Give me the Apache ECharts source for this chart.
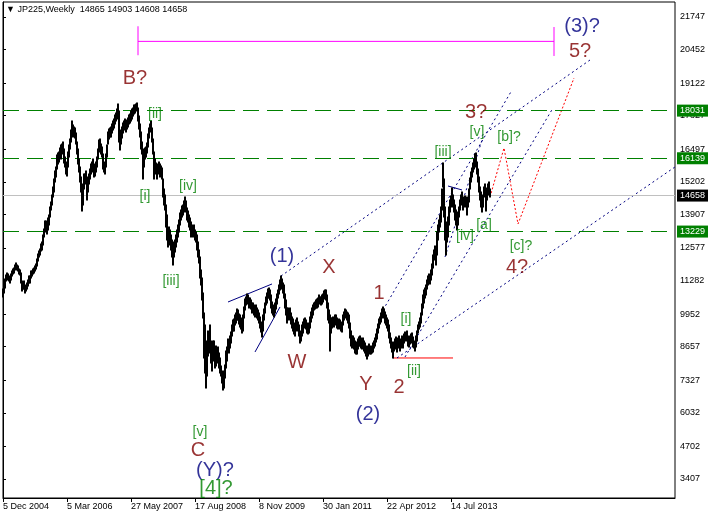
<!DOCTYPE html>
<html><head><meta charset="utf-8">
<script src="https://cdn.jsdelivr.net/npm/echarts@6/dist/echarts.min.js"></script>
<style>html,body{margin:0;padding:0;background:#fff}#c{width:715px;height:517px}</style>
</head><body><div id="c"></div>
<script>
// ---- weekly [low, high] ranges, one bar per week from 5 Dec 2004 ----
const y2004 = [[10650,10950],[10800,11100],[11000,11350],[11250,11500]];
const y2005 = [
[11350,11600],[11300,11550],[11250,11450],[11200,11400],
[11300,11550],[11450,11650],[11550,11750],[11600,11800],
[11700,11900],[11800,12000],[11700,11900],[11650,11850],
[11550,11750],[11500,11700],[11200,11600],[10850,11250],
[10950,11150],[10950,11250],[10770,11050],[10850,11100],
[10950,11200],[11050,11300],[11200,11450],[11200,11450],
[11400,11650],[11450,11650],[11550,11750],[11600,11800],
[11650,11850],[11750,11950],[11850,12150],[12050,12350],
[12200,12450],[12300,12550],[12450,12750],[12500,12800],
[12700,13100],[13000,13350],[13200,13650],[13300,13650],
[13150,13550],[13300,13750],[13500,13900],[13800,14200],
[14100,14400],[14300,14700],[14600,15000],[14800,15300],
[15200,15650],[15400,15800],[15700,16250],[15900,16350]];
const y2006 = [
[16000,16400],[16200,16550],[16100,16650],[16300,16700],
[16450,16800],[15950,16500],[15800,16200],[15500,16000],
[15450,15850],[15800,16400],[16200,16650],[16500,16900],
[16800,17250],[17150,17600],[17000,17450],[17100,17400],
[16950,17350],[16700,17150],[16300,16800],[15900,16500],
[15600,16100],[15200,15800],[14800,15400],[14050,15100],
[14300,14900],[14900,15500],[15100,15500],[15200,15650],
[14500,15300],[14800,15400],[15100,15500],[15300,15700],
[15500,15900],[15600,16000],[15700,16100],[15400,15900],
[15450,15800],[15600,16000],[15800,16200],[16100,16500],
[16400,16850],[16500,16900],[16300,16700],[16200,16600],
[15700,16300],[15600,16000],[15500,15900],[15800,16300],
[16200,16650],[16700,17200],[16900,17300],[17000,17350]];
const y2007 = [
[17000,17400],[17150,17500],[17250,17600],[17350,17700],
[17500,17850],[17600,17950],[17700,18100],[17900,18300],
[16800,18000],[16450,17100],[16700,17250],[16950,17400],
[17150,17550],[17250,17600],[17300,17700],[17200,17600],
[17300,17650],[17400,17750],[17500,17850],[17550,17900],
[17600,18000],[17700,18100],[17800,18150],[17900,18250],
[17950,18250],[18000,18300],[18050,18350],[17600,18150],
[17300,17800],[17000,17500],[16500,17200],[16300,16800],
[15300,16500],[15800,16400],[16100,16550],[16200,16600],
[16350,16750],[16600,17100],[16950,17350],[17200,17500],
[17250,17600],[16800,17350],[16300,16900],[15300,16400],
[15600,16100],[15500,15950],[15300,15800],[15500,15900],
[15600,16000],[15400,15900],[15500,15850],[15300,15750]];
const y2008 = [
[14600,15300],[14300,14900],[14100,14700],[13400,14300],
[12900,13900],[12600,13300],[12800,13400],[12700,13300],
[12500,13100],[12200,12900],[11900,12600],[12200,12800],
[12400,12900],[12600,13100],[12800,13300],[13000,13500],
[13200,13700],[13500,13950],[13700,14100],[13800,14250],
[13900,14300],[14000,14450],[14200,14600],[14000,14450],
[13700,14150],[13600,14050],[13400,13900],[13300,13750],
[13000,13600],[13100,13500],[13000,13400],[13100,13500],
[12900,13300],[12800,13200],[12500,13100],[12200,12800],
[12000,12500],[11400,12200],[11100,11700],[10500,11400],
[9800,10800],[8200,10000],[7600,9500],[7000,8700],
[7500,8900],[8300,9300],[8400,9200],[8500,9500],
[8000,8900],[7700,8500],[8100,8900],[8300,8900]];
const y2009 = [
[7800,8600],[7900,8700],[8000,8600],[8100,8650],
[7800,8400],[7600,8200],[7500,7900],[7200,7700],
[6950,7500],[7000,7700],[7400,7950],[7800,8500],
[8100,8650],[8500,8950],[8400,8900],[8600,9100],
[8800,9250],[9100,9500],[9300,9700],[9300,9750],
[9500,9900],[9600,10000],[9700,10150],[9700,10100],
[9550,9950],[9450,9900],[9350,9800],[9200,9700],
[9300,9900],[9800,10250],[10100,10550],[10300,10650],
[10400,10760],[10350,10700],[10200,10600],[10250,10600],
[10150,10500],[10000,10400],[10050,10400],[9900,10300],
[9850,10250],[9900,10300],[9800,10200],[9700,10100],
[9600,10000],[9400,9850],[9250,9650],[9050,9500],
[9300,9900],[9700,10150],[10000,10400],[10300,10650]];
const y2010 = [
[10400,10800],[10600,10950],[10600,10980],[10500,10900],
[10200,10700],[10000,10450],[9900,10300],[9850,10250],
[10000,10400],[10150,10550],[10350,10750],[10600,10900],
[10750,11100],[10900,11300],[11100,11450],[10950,11350],
[10800,11200],[10600,11100],[10200,10750],[9900,10500],
[9600,10200],[9800,10200],[9700,10100],[9800,10200],
[9550,10000],[9400,9850],[9300,9750],[9150,9600],
[9100,9500],[9300,9700],[9400,9800],[9300,9650],
[9100,9500],[8800,9250],[8900,9300],[9100,9500],
[9200,9650],[9400,9750],[9450,9800],[9350,9700],
[9200,9600],[9150,9500],[9200,9600],[9400,9850],
[9650,10050],[9800,10200],[9900,10300],[10100,10400],
[10150,10450],[10200,10500],[10200,10550],[10250,10600]];
const y2011 = [
[10350,10700],[10400,10650],[10300,10650],[10350,10700],
[10450,10750],[10550,10850],[10600,10900],[10500,10900],
[10200,10700],[9700,10400],[9600,10100],[8500,9900],
[9200,9800],[9400,9800],[9500,9850],[9450,9800],
[9500,9900],[9550,9900],[9400,9800],[9350,9700],
[9400,9750],[9350,9700],[9300,9650],[9250,9600],
[9500,9900],[9700,10050],[9850,10150],[9800,10100],
[9700,10050],[9600,10000],[9400,9900],[9000,9600],
[8700,9300],[8600,9100],[8700,9100],[8550,9000],
[8400,8900],[8350,8850],[8350,8800],[8550,8950],
[8700,9050],[8700,9100],[8600,9000],[8550,8950],
[8600,9000],[8500,8900],[8400,8800],[8300,8700],
[8150,8550],[8300,8700],[8400,8750],[8350,8700]];
const y2012 = [
[8350,8650],[8400,8700],[8450,8800],[8600,8900],
[8700,9000],[8850,9150],[8950,9350],[9200,9550],
[9400,9750],[9550,9850],[9650,10000],[9800,10150],
[9900,10250],[9800,10150],[9600,10050],[9500,9900],
[9400,9800],[9300,9700],[9000,9500],[8800,9200],
[8600,9000],[8450,8850],[8220,8700],[8500,8850],
[8550,8950],[8650,9050],[8450,8900],[8600,9000],
[8700,9100],[8500,8900],[8600,8950],[8750,9100],
[8600,8950],[8800,9150],[8950,9250],[8900,9200],
[8950,9300],[8700,9100],[8650,9000],[8750,9100],
[8800,9150],[8850,9200],[8650,9050],[8600,8900],
[8500,8850],[8650,9100],[8900,9300],[9200,9500],
[9350,9650],[9450,9800],[9600,10000],[9900,10350]];
const y2013 = [
[10200,10700],[10400,10900],[10600,11000],[10700,11100],
[10950,11300],[11100,11450],[11250,11550],[11150,11500],
[11300,11700],[11500,11950],[11800,12300],[12100,12500],
[12200,12650],[11900,12500],[12300,13200],[12900,13500],
[13200,13700],[13400,13900],[13600,14200],[14100,14900],
[15000,15950],[13800,15300],[12900,14200],[12300,13500],
[12800,13600],[13000,13800],[13500,14200],[14000,14500],
[14200,14650],[14500,14960],[14200,14700],[14000,14500],
[13700,14300],[13500,14100],[13300,13800],[13500,14000],
[13800,14200],[14100,14500],[14300,14700],[14400,14800],
[14100,14600],[14200,14550],[14300,14650],[14200,14600],
[13900,14400],[14200,14600],[14400,14900],[14900,15350],
[15200,15600],[15400,15750],[15600,15950],[15700,16100]];
const y2014 = [
[15900,16300],[15800,16350],[15500,16000],[15200,15700],
[14800,15400],[14500,15000],[14200,14800],[14000,14500],
[14200,14700],[14600,15000],[14700,15100],[14050,14700],
[14500,14950],[14700,15100],[14800,15200],[14608,14903]];

// ---- axes ----
const dateTicks = [0, 64, 128, 192, 256, 320, 384, 448];
const dateLabels = ['5 Dec 2004','5 Mar 2006','27 May 2007','17 Aug 2008','8 Nov 2009','30 Jan 2011','22 Apr 2012','14 Jul 2013'];
const priceTicks = [21747,20452,19122,17827,16497,15202,13907,12577,11282,9952,8657,7327,6032,4702,3407];
const levelLines = [18031, 16139, 13229];
const lastPrice = 14658;
const header = '\u25BC JP225,Weekly  14865 14903 14608 14658';

// ---- drawn objects (bar index, price) ----
const magentaSpan = [[135, 20780], [551, 20780]];
const magentaLeft = [[135, 21380], [135, 20230]];
const magentaRight = [[551, 21350], [551, 20200]];
const redSupport = [[390, 8210], [450, 8210]];
const redPath = [[487, 14600], [501, 16547], [515, 13530], [571, 19326]];
const dotLines = [
  [[278, 11465], [587, 20040]],
  [[380, 10115], [509, 18849]],
  [[394, 8210], [672, 15793]],
  [[442, 12220], [480, 16983]],
  [[402, 8250], [550, 18135]]
];
const solidLines = [
  [[225, 10433], [269, 11148]],
  [[252, 8448], [277, 10235]],
  [[445, 15038], [459, 14880]]
];

// ---- wave labels ----
const labelText  = ['B?','[ii]','[i]','[iv]','[iii]','[v]','C','(Y)?','[4]?','(1)','X','W','Y','(2)','1','[i]','2','[ii]','[iii]','3?','[v]','[b]?','[iv]','[a]','[c]?','4?','(3)?','5?'];
const labelBar   = [132,152,142,185,168,197,195,212,213,279,326,294,363,365,376,403,396,411,440,473,474,506,462,481,518,514,579,577];
const labelPrice = [19326,17897,14641,15038,11267,5272,4557,3725,3010,12259,11783,8012,7138,5947,10790,9758,7058,7694,16388,17976,17182,16984,13053,13490,12650,11783,21390,20398];
const labelKind  = ['r','g','g','g','g','g','r','b','g4','b','r','r','r','b','r','g','r','g','g','r','g','g','g','g','g','r','b','r'];

const RED = '#800000', NAVY = '#000080', GREEN = '#008000';
const FONT = 'Liberation Sans';

const bars = [].concat(y2004, y2005, y2006, y2007, y2008, y2009, y2010, y2011, y2012, y2013, y2014);
const barData = bars.map((b, i) => [i, b[0], b[1]]);

function lineSeries(data, color, type, width) {
  return { type: 'line', data: data, symbol: 'none', silent: true, animation: false,
    lineStyle: { color: color, width: width || 1, type: type }, z: 4 };
}

const series = [];
series.push({
  type: 'custom', data: barData, encode: { x: 0, y: [1, 2] }, z: 5, animation: false,
  renderItem: function (params, api) {
    const x = api.value(0);
    const a = api.coord([x, api.value(1)]);
    const b = api.coord([x, api.value(2)]);
    const px = Math.round(a[0]);
    return { type: 'line', shape: { x1: px, y1: Math.round(a[1]) + 0.5, x2: px, y2: Math.round(b[1]) - 0.5 },
      style: { stroke: '#000', lineWidth: 2 } };
  },
  markLine: {
    silent: true, symbol: 'none', animation: false,
    label: { show: true, position: 'end', distance: 2, formatter: function (p) { return String(p.value); },
      fontSize: 9, fontFamily: FONT, color: '#fff', padding: [2, 3, 1, 3], lineHeight: 9 },
    data: levelLines.map(function (v) {
      return { yAxis: v, lineStyle: { color: GREEN, type: [16, 8], width: 1 }, label: { backgroundColor: GREEN } };
    }).concat([{ yAxis: lastPrice, lineStyle: { color: '#c0c0c0', type: 'solid', width: 1 }, label: { backgroundColor: '#000' } }])
  }
});
series.push(lineSeries(magentaSpan, '#ff00ff', 'solid', 1));
series.push(lineSeries(magentaLeft, '#ff00ff', 'solid', 1));
series.push(lineSeries(magentaRight, '#ff00ff', 'solid', 1));
series.push(lineSeries(redSupport, '#ff0000', 'solid', 1));
series.push(lineSeries(redPath, '#ff0000', [2, 2], 1));
dotLines.forEach(function (d) { series.push(lineSeries(d, NAVY, [2, 3], 1)); });
solidLines.forEach(function (d) { series.push(lineSeries(d, NAVY, 'solid', 1)); });

series.push({
  type: 'scatter', symbolSize: 1, itemStyle: { color: 'rgba(0,0,0,0)' }, silent: true, animation: false, z: 10,
  data: labelText.map(function (t, i) {
    const k = labelKind[i];
    const color = k === 'r' ? RED : (k === 'b' ? NAVY : GREEN);
    const size = k === 'g' ? 14 : 20;
    return { value: [labelBar[i], labelPrice[i]],
      label: { show: true, position: 'inside', formatter: t, color: color, fontSize: size, fontFamily: FONT } };
  })
});

const chart = echarts.init(document.getElementById('c'), null, { renderer: 'canvas' });
chart.setOption({
  animation: false,
  backgroundColor: '#fff',
  grid: { left: 3, right: 40, top: 2, bottom: 19, show: true, borderColor: '#000', borderWidth: 1, backgroundColor: 'transparent' },
  graphic: [{ type: 'text', left: 6, top: 5, z: 100, style: { text: header, font: '9px "' + FONT + '"', fill: '#000' } }],
  xAxis: {
    type: 'value', min: 0, max: 672,
    axisLine: { show: true, lineStyle: { color: '#000' } },
    axisTick: { show: true, length: 4, customValues: dateTicks, lineStyle: { color: '#000' } },
    axisLabel: { customValues: dateTicks, align: 'left', margin: 4, fontSize: 9, fontFamily: FONT, color: '#000',
      formatter: function (v) { const i = dateTicks.indexOf(v); return i >= 0 ? dateLabels[i] : ''; } },
    splitLine: { show: false }
  },
  yAxis: {
    type: 'value', position: 'right', min: 2651, max: 22343,
    axisLine: { show: true, lineStyle: { color: '#000' } },
    axisTick: { show: true, length: 3, customValues: priceTicks, lineStyle: { color: '#000' } },
    axisLabel: { customValues: priceTicks, margin: 5, fontSize: 9, fontFamily: FONT, color: '#000',
      formatter: function (v) { return String(v); } },
    splitLine: { show: false }
  },
  series: series
});
</script>
</body></html>
